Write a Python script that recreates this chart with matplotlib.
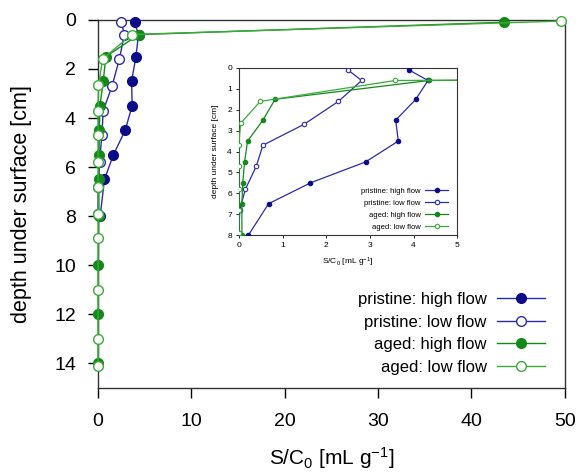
import matplotlib.pyplot as plt
import numpy as np

plt.rcParams['font.family'] = ['Liberation Sans', 'DejaVu Sans']
plt.rcParams['mathtext.fontset'] = 'custom'
plt.rcParams['mathtext.rm'] = 'Liberation Sans'
plt.rcParams['mathtext.it'] = 'Liberation Sans:italic'

# depth [cm] and S/C0 [mL/g] per series
ph_depth = [0.1, 0.6, 1.5, 2.5, 3.5, 4.5, 5.5, 6.5, 8.0]
ph_val = [3.9, 4.33, 4.05, 3.59, 3.65, 2.9, 1.64, 0.68, 0.22]

pl_depth = [0.1, 0.6, 1.6, 2.7, 3.7, 4.7, 5.8, 6.8, 7.9]
pl_val = [2.5, 2.81, 2.28, 1.49, 0.55, 0.4, 0.15, 0.02, 0.0]

ah_depth = [0.1, 0.6, 1.5, 2.5, 3.5, 4.5, 5.5, 6.5, 8.0, 10.0, 12.0, 14.0]
ah_val = [43.5, 4.35, 0.83, 0.55, 0.2, 0.13, 0.09, 0.07, 0.07, 0.03, 0.03, 0.03]

al_depth = [0.05, 0.6, 1.6, 2.65, 3.7, 4.7, 5.8, 6.8, 7.9, 8.9, 11.0, 13.0, 14.1]
al_val = [49.6, 3.58, 0.49, 0.04, 0.0, 0.0, 0.0, 0.0, 0.0, 0.0, 0.0, 0.0, 0.0]

labels = ['pristine: high flow', 'pristine: low flow', 'aged: high flow', 'aged: low flow']

navy = '#0c0c8a'
blue = '#2b2bb0'
green = '#14891a'
lgreen = '#3aaa3a'

series = [
    (ph_val, ph_depth, navy, blue, True),
    (pl_val, pl_depth, blue, blue, False),
    (ah_val, ah_depth, green, green, True),
    (al_val, al_depth, lgreen, lgreen, False),
]

fig = plt.figure(figsize=(5.84, 4.72), dpi=100)
ax = fig.add_axes([0.168, 0.178, 0.799, 0.780])

for (x, y, mc, lc, filled), lab in zip(series, labels):
    ax.plot(x, y, '-o', color=lc, lw=1.0, ms=7, mec=mc, mew=1.0,
            mfc=mc if filled else 'white', label=lab, clip_on=False, zorder=3)

ax.set_xlim(0, 50)
ax.set_ylim(15, 0)
ax.set_xticks(np.arange(0, 51, 10))
ax.set_yticks(np.arange(0, 15, 2))
ax.tick_params(direction='out', length=7, width=1, labelsize=14)
ax.tick_params(axis='x', pad=11)
ax.tick_params(axis='y', pad=9)
for s in ax.spines.values():
    s.set_linewidth(1.0)
    s.set_color('#333333')
ax.set_xlabel('S/C$_0$ [mL g$^{-1}$]', fontsize=15, labelpad=11)
ax.set_ylabel('depth under surface [cm]', fontsize=15.5, labelpad=16)

ax.legend(loc='lower right', bbox_to_anchor=(0.99, -0.005), frameon=False,
          markerfirst=False, fontsize=12, handlelength=2.9,
          labelspacing=0.45, handletextpad=0.6)

# inset with zoom on the top 8 cm
ins = fig.add_axes([0.409, 0.502, 0.374, 0.354])
for (x, y, mc, lc, filled), lab in zip(series, labels):
    ins.plot(x, y, '-o', color=lc, lw=0.9, ms=3.2, mec=mc, mew=0.8,
             mfc=mc if filled else 'white', label=lab, clip_on=True, zorder=3)
ins.set_xlim(0, 5)
ins.set_ylim(8, 0)
ins.set_xticks(np.arange(0, 6, 1))
ins.set_yticks(np.arange(0, 9, 1))
ins.tick_params(direction='out', length=2, width=0.6, labelsize=6, pad=3)
for s in ins.spines.values():
    s.set_linewidth(0.8)
    s.set_color('#333333')
ins.set_xlabel('S/C$_0$ [mL g$^{-1}$]', fontsize=6, labelpad=5)
ins.set_ylabel('depth under surface [cm]', fontsize=6, labelpad=6)
ins.legend(loc='lower right', bbox_to_anchor=(0.99, -0.015), frameon=False,
           markerfirst=False, fontsize=5.5, handlelength=3.0,
           labelspacing=0.6, handletextpad=0.6)

fig.savefig('out.png', dpi=100)
